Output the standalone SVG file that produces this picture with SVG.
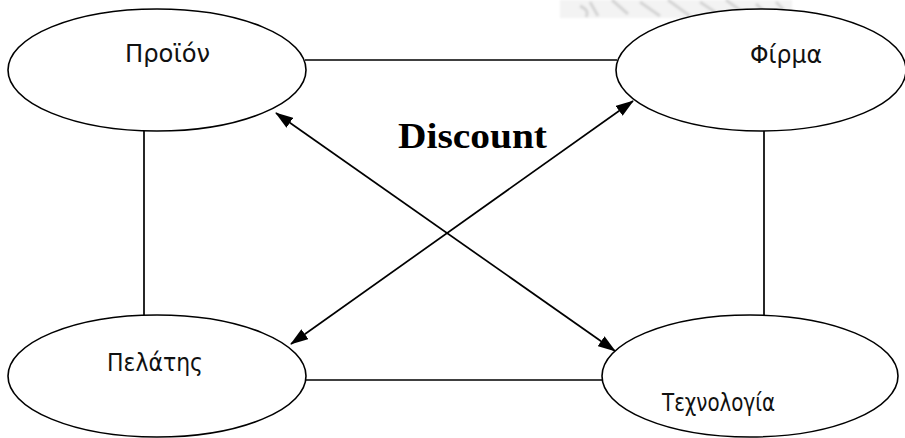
<svg xmlns="http://www.w3.org/2000/svg" width="905" height="438" viewBox="0 0 905 438">
  <style>
    .node ellipse { fill: #ffffff; stroke: #000000; stroke-width: 1.6; }
    .node text { font-family: "DejaVu Sans", "Noto Sans", sans-serif; font-size: 24px; fill: #111111; }
    .edge { stroke: #000000; stroke-width: 1.7; fill: none; }
    .arrow { marker-start: url(#head); marker-end: url(#head); }
    .title { font-family: "Liberation Serif", serif; font-weight: bold; font-size: 36px; fill: #000000; }
    .mark { stroke: #d4d4d4; stroke-width: 3; fill: none; }
  </style>
  <defs>
    <marker id="head" viewBox="0 0 18 12" refX="17" refY="6" markerWidth="18" markerHeight="12" markerUnits="userSpaceOnUse" orient="auto-start-reverse">
      <path d="M0,0 L18,6 L0,12 Z" fill="#000000"/>
    </marker>
    <filter id="soft"><feGaussianBlur stdDeviation="0.8"/></filter>
  </defs>

  <rect width="905" height="438" fill="#ffffff"/>

  <!-- faint background stamp along the top edge -->
  <g id="stamp" filter="url(#soft)">
    <rect x="560" y="0" width="232" height="18" fill="#f3f3f3"/>
    <path class="mark" d="M590,2 L598,16 M612,0 L628,14 M640,2 L660,16 M668,0 L690,16 M700,2 L718,14 M726,0 L748,16 M756,4 L770,16"/>
    <path class="mark" d="M580,6 Q590,10 586,17 M776,2 L784,10"/>
  </g>

  <g id="connectors">
    <line class="edge" x1="305" y1="60" x2="617" y2="60"/>
    <line class="edge" x1="144" y1="131" x2="144" y2="316"/>
    <line class="edge" x1="764" y1="131" x2="764" y2="316"/>
    <line class="edge" x1="306" y1="380" x2="603" y2="380"/>
    <line class="edge arrow" x1="276" y1="113" x2="615" y2="351"/>
    <line class="edge arrow" x1="633" y1="101" x2="291" y2="344"/>
  </g>

  <g id="node-proion" class="node">
    <ellipse cx="157" cy="70" rx="149" ry="61"/>
    <text x="125" y="62" textLength="85" lengthAdjust="spacingAndGlyphs">Προϊόν</text>
  </g>

  <g id="node-firma" class="node">
    <ellipse cx="761" cy="70" rx="145" ry="61"/>
    <text x="750" y="63" textLength="72" lengthAdjust="spacingAndGlyphs">Φίρμα</text>
  </g>

  <g id="node-pelatis" class="node">
    <ellipse cx="157" cy="376" rx="149" ry="61"/>
    <text x="107" y="371" textLength="96" lengthAdjust="spacingAndGlyphs">Πελάτης</text>
  </g>

  <g id="node-technologia" class="node">
    <ellipse cx="750" cy="376" rx="148" ry="61"/>
    <text x="662" y="411" textLength="113" lengthAdjust="spacingAndGlyphs">Τεχνολογία</text>
  </g>

  <text class="title" x="398" y="148" textLength="149" lengthAdjust="spacingAndGlyphs">Discount</text>
</svg>
